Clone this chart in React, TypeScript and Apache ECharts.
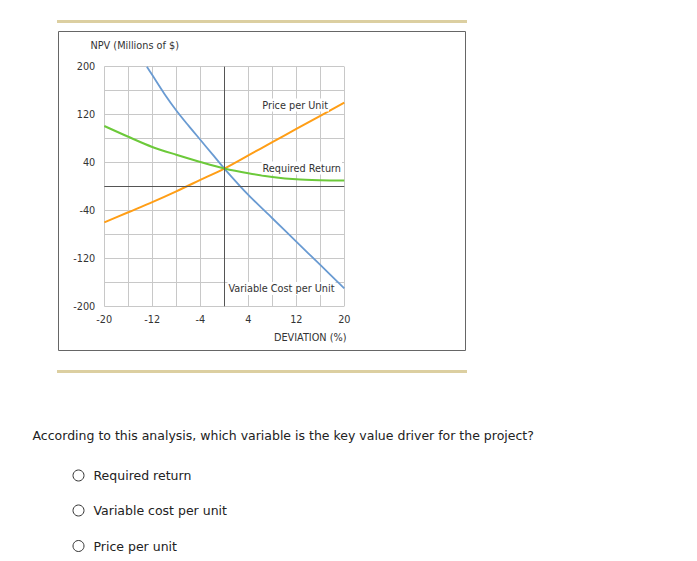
import React, { useEffect, useRef } from "react";
import * as echarts from "echarts";

const deviation = [-20, -16, -12, -8, -4, 0, 4, 8, 12, 16, 20];
const priceNPV = [-60, -43, -26, -8, 11, 30, 52, 74, 96, 118, 140];
const requiredNPV = [101, 83, 66, 53, 41, 30, 22, 16, 12, 10.5, 10];
const varCostDeviation = [-12.9, -12, -10, -8, -6, -4, -2, 0, 4, 8, 12, 16, 20];
const varCostNPV = [200, 186, 155, 127, 102, 78, 54, 30, -14, -53, -92, -131, -170];
const xLabelTicks = [-20, -12, -4, 4, 12, 20];
const yLabelTicks = [200, 120, 40, -40, -120, -200];

const question = "According to this analysis, which variable is the key value driver for the project?";
const choices = ["Required return", "Variable cost per unit", "Price per unit"];

const CH_FONT = "'Liberation Sans Narrow', 'DejaVu Sans Condensed', Roboto, sans-serif";
const Q_FONT = "'DejaVu Sans', Verdana, sans-serif";
const CH_SIZE = 10.8;
const Q_SIZE = 12.5;

export default function App() {
  const ref = useRef<HTMLDivElement>(null);
  useEffect(() => {
    if (!ref.current) return;
    const chart = echarts.init(ref.current, undefined, { renderer: "svg" });
    const pair = (xs: number[], ys: number[]) => xs.map((x, i) => [x, ys[i]]);
    const choiceY = [475.5, 510.5, 546];
    const labelStyle = (text: string) => ({
      text, font: `${CH_SIZE}px ${CH_FONT}`, fill: "#333", align: "right", verticalAlign: "middle",
      backgroundColor: "#fff", padding: [1, 1],
    });
    const graphic: any[] = [
      { type: "rect", shape: { x: 57, y: 20, width: 410, height: 3 }, style: { fill: "#DCCFA1" } },
      { type: "rect", shape: { x: 57, y: 370, width: 410, height: 3 }, style: { fill: "#DCCFA1" } },
      { type: "rect", shape: { x: 58.5, y: 31.5, width: 407, height: 319 }, style: { fill: "none", stroke: "#666", lineWidth: 1 } },
      { type: "text", x: 90.5, y: 45, style: { text: "NPV (Millions of $)", font: `${CH_SIZE}px ${CH_FONT}`, fill: "#333", verticalAlign: "middle" } },
      { type: "text", x: 346.5, y: 337, style: { text: "DEVIATION (%)", font: `${CH_SIZE}px ${CH_FONT}`, fill: "#333", align: "right", verticalAlign: "middle" } },
      { type: "text", x: 329, y: 105, z: 100, style: labelStyle("Price per Unit") },
      { type: "text", x: 342, y: 168, z: 100, style: labelStyle("Required Return") },
      { type: "text", x: 335.5, y: 288.5, z: 100, style: labelStyle("Variable Cost per Unit") },
      { type: "text", x: 32.5, y: 435.5, style: { text: question, font: `${Q_SIZE}px ${Q_FONT}`, fill: "#222", verticalAlign: "middle" } },
    ];
    choices.forEach((c, i) => {
      graphic.push({ type: "circle", shape: { cx: 78.5, cy: choiceY[i], r: 5.5 }, style: { fill: "#fff", stroke: "#333", lineWidth: 1 } });
      graphic.push({ type: "text", x: 93.5, y: choiceY[i], style: { text: c, font: `${Q_SIZE}px ${Q_FONT}`, fill: "#222", verticalAlign: "middle" } });
    });

    chart.setOption({
      animation: false,
      backgroundColor: "#fff",
      grid: { left: 104.3, top: 66.7, width: 240, height: 239.6, containLabel: false },
      xAxis: {
        type: "value", min: -20, max: 20, interval: 4,
        axisLine: { show: false }, axisTick: { show: false },
        splitLine: { show: true, lineStyle: { color: "#C8C8C8", width: 1 } },
        axisLabel: {
          margin: 8, color: "#333", fontSize: CH_SIZE, fontFamily: CH_FONT,
          formatter: (v: number) => (xLabelTicks.includes(v) ? String(v) : ""),
        },
      },
      yAxis: {
        type: "value", min: -200, max: 200, interval: 40,
        axisLine: { show: false }, axisTick: { show: false },
        splitLine: { show: true, lineStyle: { color: "#C8C8C8", width: 1 } },
        axisLabel: {
          margin: 9, color: "#333", fontSize: CH_SIZE, fontFamily: CH_FONT,
          formatter: (v: number) => (yLabelTicks.includes(v) ? String(v) : ""),
        },
      },
      graphic,
      series: [
        {
          type: "line", name: "zero", data: [], silent: true,
          markLine: {
            silent: true, symbol: "none", label: { show: false },
            lineStyle: { color: "#555", width: 1, type: "solid" },
            data: [{ xAxis: 0 }, { yAxis: 0 }],
          },
        },
        {
          type: "line", name: "Variable Cost per Unit", data: pair(varCostDeviation, varCostNPV),
          smooth: 0.3, showSymbol: false, lineStyle: { color: "#6A9BD2", width: 1.8 },
        },
        {
          type: "line", name: "Price per Unit", data: pair(deviation, priceNPV),
          smooth: 0.3, showSymbol: false, lineStyle: { color: "#FF9E16", width: 2 },
        },
        {
          type: "line", name: "Required Return", data: pair(deviation, requiredNPV),
          smooth: 0.3, showSymbol: false, lineStyle: { color: "#6CC93A", width: 2 },
        },
      ],
    });
    return () => chart.dispose();
  }, []);
  return <div ref={ref} style={{ position: "absolute", left: 0, top: 0, width: 697, height: 561 }} />;
}
